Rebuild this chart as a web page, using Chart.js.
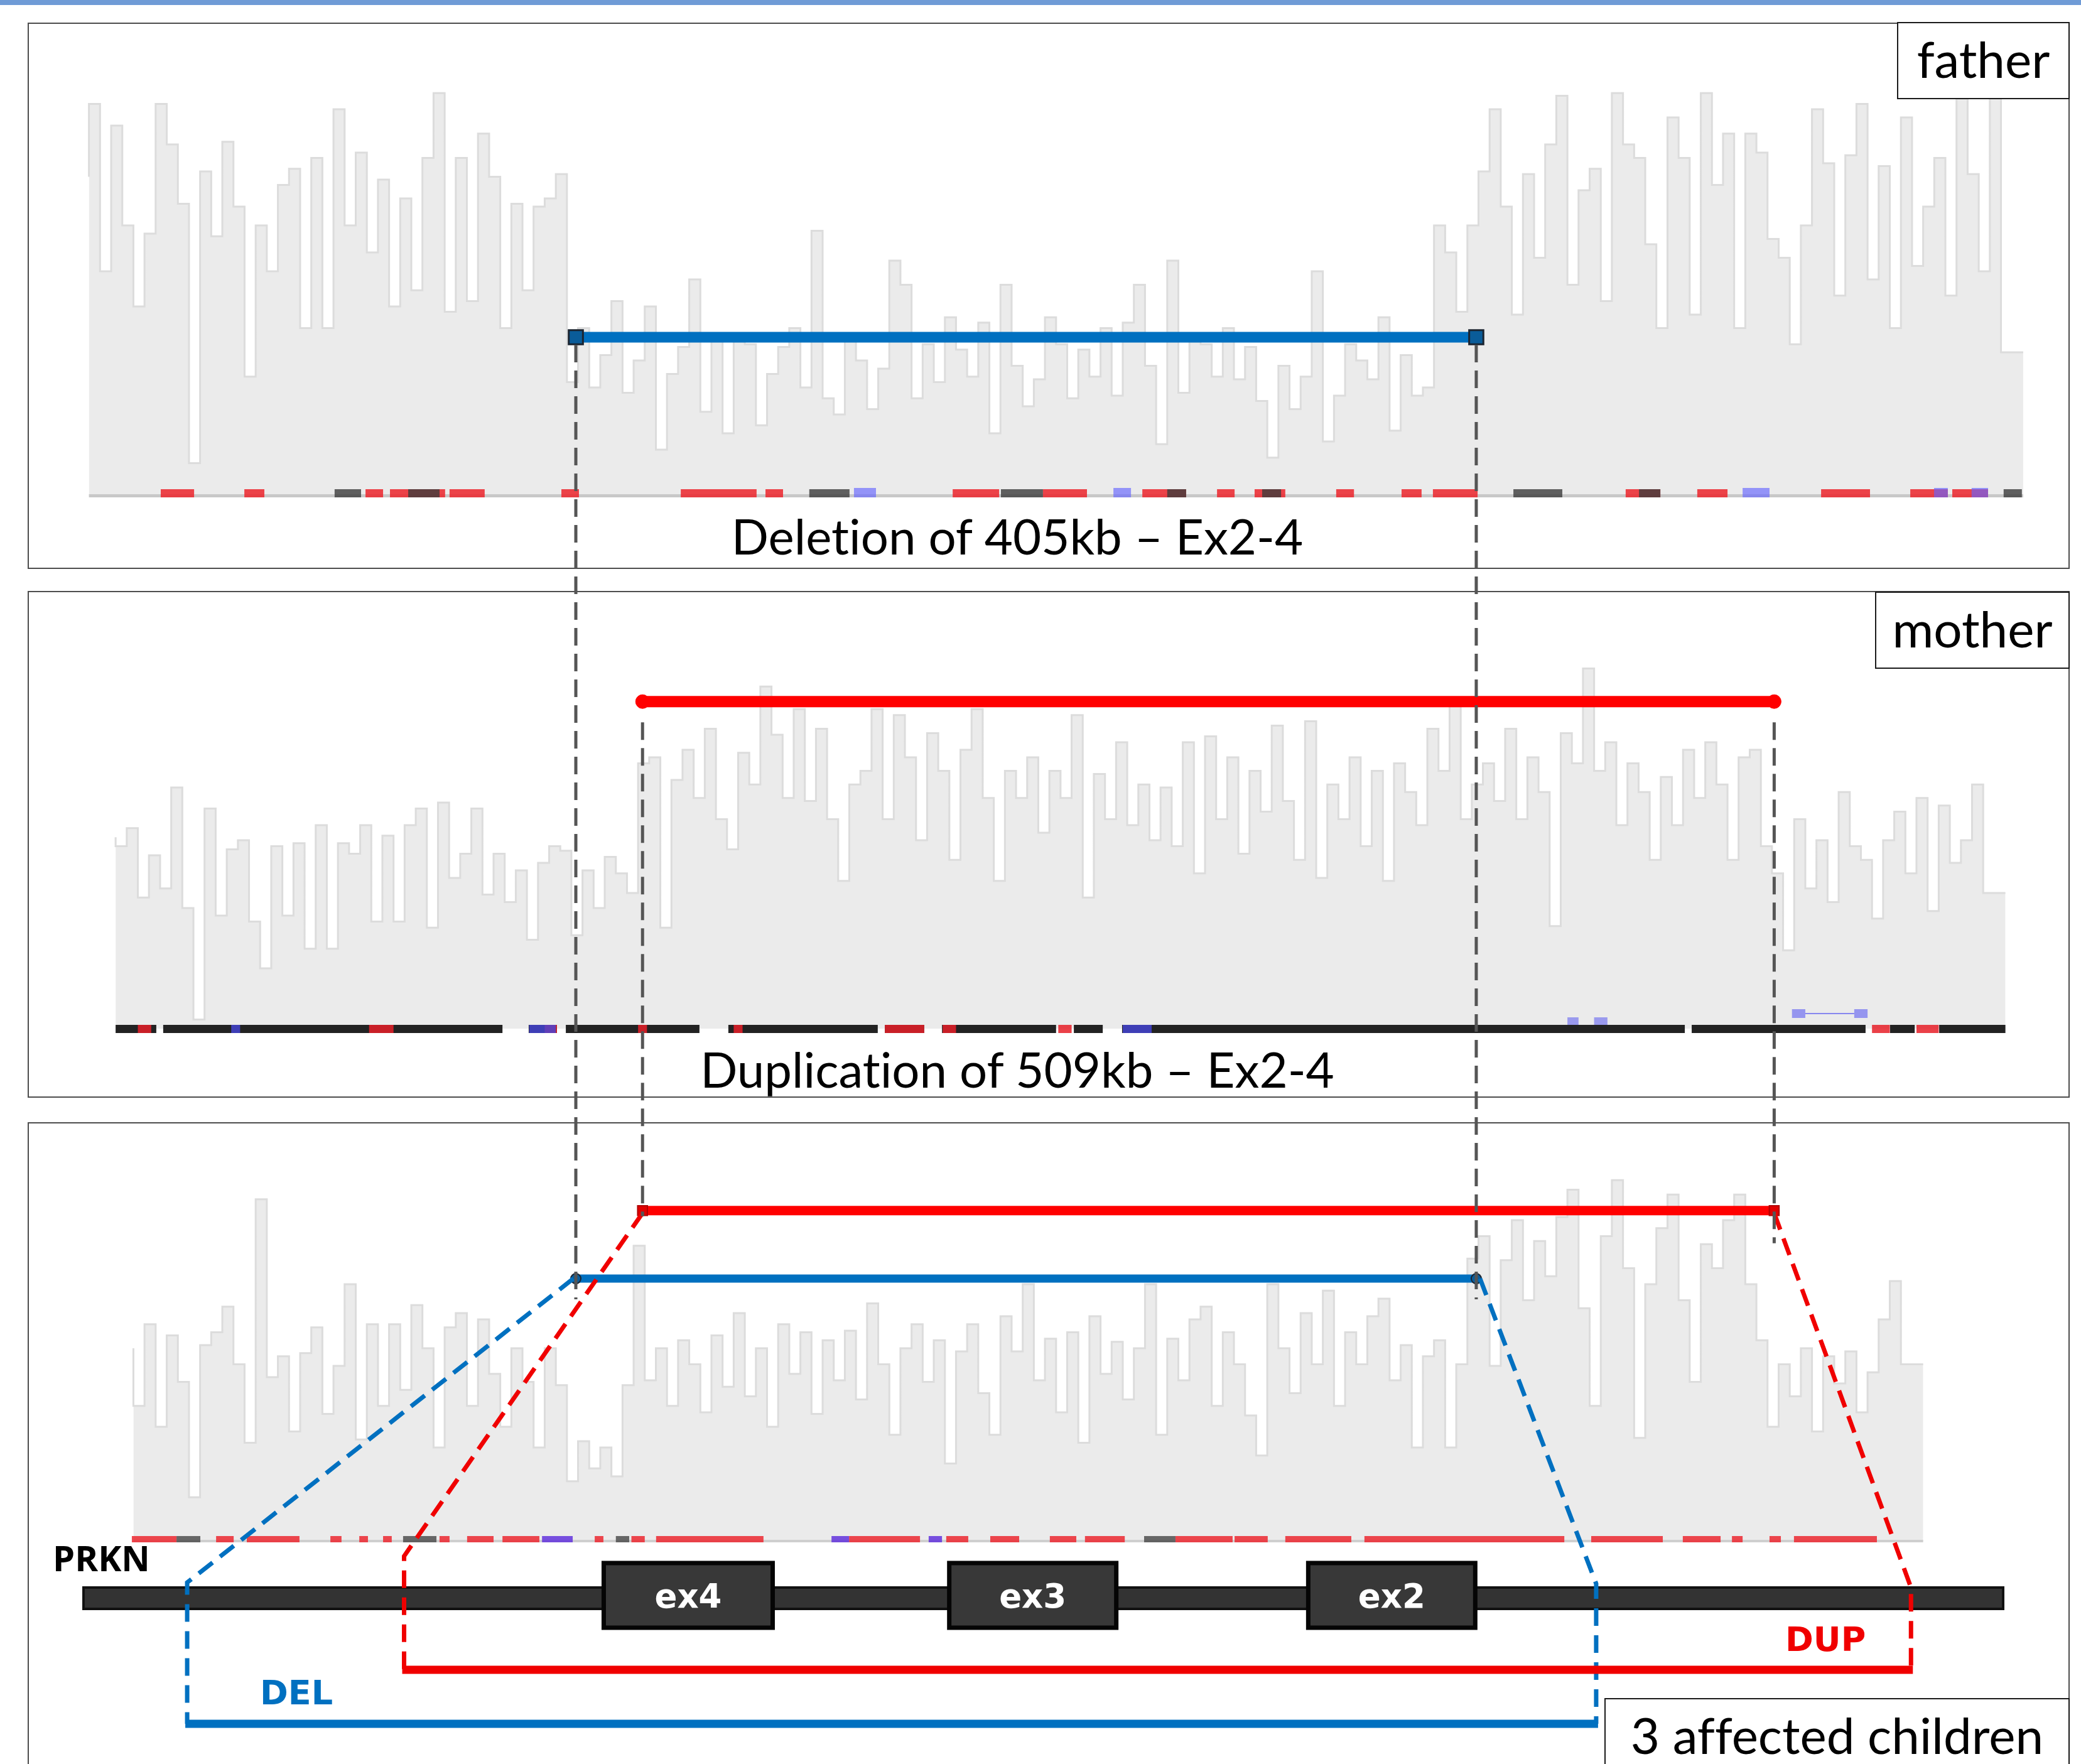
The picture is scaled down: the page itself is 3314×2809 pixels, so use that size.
<!DOCTYPE html>
<html>
<head>
<meta charset="utf-8">
<title>PRKN Ex2-4 deletion / duplication</title>
<script src="https://cdn.jsdelivr.net/npm/chart.js@4.4.1/dist/chart.umd.min.js"></script>
<style>
  html, body { margin: 0; padding: 0; background: #fff; }
  #wrap { position: relative; width: 3314px; height: 2809px; overflow: hidden; background: #fff; }
  #topbar { position: absolute; left: 0; top: 0; width: 100%; height: 8px; background: #6f9bd6; }
  .panel { position: absolute; left: 44px; width: 3252px; border: 2px solid #4d4d4d; box-sizing: border-box; }
  #chart { position: absolute; left: 0; top: 0; }
  .tag { position: absolute; background: #fff; border: 2px solid #1a1a1a; box-sizing: border-box;
         padding-top: 16px; text-align: center; font: 80px/80px Lato, sans-serif; color: #000; white-space: nowrap;
         font-variant-ligatures: none; }
  .caption { position: absolute; left: 0; width: 3240px; text-align: center; font: 78px/78px Lato, sans-serif; color: #000;
             font-variant-ligatures: none; }
  .lbl { position: absolute; font-family: "DejaVu Sans", sans-serif; font-weight: bold; line-height: 1; white-space: nowrap; }
</style>
</head>
<body>
<div id="wrap">
  <div id="topbar"></div>
  <div class="panel" style="top:36px;height:870px"></div>
  <div class="panel" style="top:941px;height:807px"></div>
  <div class="panel" style="top:1787px;height:1100px"></div>
  <canvas id="chart" width="3314" height="2809"></canvas>
  <div class="tag" style="left:3021px;top:35px;width:275px;height:123px">father</div>
  <div class="tag" style="left:2986px;top:942px;width:310px;height:123px">mother</div>
  <div class="tag" style="left:2555px;top:2704px;width:741px;height:200px">3 affected children</div>
  <div class="caption" style="top:814px">Deletion of 405kb – Ex2-4</div>
  <div class="caption" style="top:1663px">Duplication of 509kb – Ex2-4</div>
  <div class="lbl" style="left:84px;top:2452px;font-family:'Open Sans',sans-serif;font-size:56px;color:#000">PRKN</div>
  <div class="lbl" style="left:414px;top:2669px;font-size:54px;color:#0070c0">DEL</div>
  <div class="lbl" style="left:2843px;top:2584px;font-size:54px;color:#f00000">DUP</div>
</div>
<script>
// read depth in 5 kb bins, x in kb along the shown region (about 100 = two copies)
var BIN_KB = 5;

var fatherStartKb = 40;
var fatherDepth = [
  118,145,83,137,100,70,97,145,130,108,12,120,96,131,107,44,100,83,115,121,62,125,62,143,100,127,90,117,70,110,76,125,149,68,125,72,134,118,62,108,76,107,110,119,
  42,62,40,52,72,38,50,70,17,45,55,80,31,58,23,60,56,26,45,55,62,40,98,36,30,60,50,32,47,87,
  78,36,56,42,66,54,44,64,23,78,48,33,43,66,56,36,54,44,62,37,64,78,48,19,87,38,58,56,44,62,
  43,55,35,14,48,32,44,83,20,37,56,50,43,66,24,52,37,40,100,90,68,
  100,120,143,107,67,119,88,130,148,78,113,121,72,149,130,125,93,62,140,125,67,149,115,134,62,
  134,127,95,88,56,100,143,123,74,126,145,80,122,62,140,85,107,125,74,147,119,83,147,53
];

var motherStartKb = 52;
var motherDepth = [
  127,121,133,87,115,93,160,80,6,146,75,119,125,71,40,121,75,123,53,135,53,123,116,135,71,128,71,135,146,67,150,100,116,146,89,116,84,105,59,110,121,118,62,105,80,114,103,90,
  176,180,67,165,185,153,199,139,119,183,162,227,195,153,212,151,199,139,98,162,171,212,139,208,180,125,196,171,112,185,
  212,153,98,171,153,180,130,171,153,208,87,169,139,190,135,162,125,160,121,190,103,194,139,180,116,171,144,201,151,112,
  204,100,162,139,180,121,171,98,176,157,135,199,171,215,139,162,176,151,199,139,180,157,68,196,176,239,171,190,135,176,
  157,112,167,135,185,153,190,162,112,180,185,121,
  103,52,139,93,125,84,157,121,112,73,125,144,103,153,78,148,110,125,162,90
];

var childStartKb = 60;
var childDepth = [
  120,84,135,71,128,99,27,122,130,146,110,61,213,102,115,68,117,133,79,109,160,63,135,84,135,94,147,120,58,133,142,84,138,104,71,120,99,58,120,97,
  37,62,45,58,40,97,
  184,100,120,84,125,110,80,128,96,142,90,120,71,135,104,130,79,125,100,131,88,148,110,66,120,135,99,125,48,118,
  135,92,66,140,118,160,100,126,80,130,61,140,104,124,88,120,160,66,126,100,138,146,84,130,110,78,53,160,120,92,
  142,110,156,84,130,110,140,151,100,122,58,115,125,58,110,
  176,190,109,175,200,150,187,165,202,219,145,84,190,225,170,64,160,195,216,150,99,185,170,200,216,160,
  125,71,110,90,120,68,115,98,118,80,105,138,162,110
];

// CNV calls, kb
var delStartKb = 259, delSizeKb = 405;
var dupStartKb = 289, dupSizeKb = 509;
// depth level where each call bar sits in its panel
var fatherDelLevel = 58.6;
var motherDupLevel = 217;
var childDupLevel = 206;
var childDelLevel = 163.5;

// PRKN schematic, position in % of the drawn gene
var geneSpan = [0, 100];
var exonNames = ['ex4', 'ex3', 'ex2'];
var exonFrom = [27.1, 45.1, 63.8];
var exonTo = [35.9, 53.8, 72.5];
var schemDel = [5.4, 78.8];
var schemDup = [16.7, 95.2];

// annotation marks under each track, kb
var fatherRed = [[72.3,87.3],[109.9,118.9],[164.4,172.3],[175.4,200.2],[202.2,218],[252.5,260.4],[306.2,340.3],[344.3,352.2],[428.5,449.4],[469.1,488.9],[513.8,533.5],[547.4,555.3],[564.3,578.1],[601,609],[630.4,639.4],[644.5,664.6],[731.2,746.8],[763.4,777],[819.1,841.1],[859.2,876.1],[878.1,894.2]];
var fatherDark = [[150.5,162.4],[183.6,197.7],[364,382.1],[450.2,469.1],[525,533.5],[567.7,576.2],[680.7,702.7],[737.2,746.8],[901.2,909.4]];
var fatherBlue = [[384.1,394],[500.8,508.7],[783.8,795.9],[869.9,876.1],[886.8,894.2]];
var motherBand = [[52,70.3],[73.4,226],[237.8,250.5],[254.5,314.6],[327.6,394.8],[398,415.7],[423.7,475],[483,496],[504.7,757.8],[760.9,839.1],[850.1,861.2],[872.2,902]];
var motherRed = [[62,68],[166,177],[245,250.5],[287,291],[330,334],[398,415.7],[424,430],[476,482],[842,850],[862,872]];
var motherBlue = [[104,108],[238,250],[505,518]];
var motherBoxes = [[705,710],[717,723]];
var motherGene = [[806,812],[834,840]];
var childRed = [[59.3,79.4],[97.2,105.1],[111,134.7],[148.6,153.6],[161.6,165.5],[172.3,176.2],[197.7,202.2],[210.1,222],[226,242.6],[267.5,271.4],[284,290],[295.1,343.4],[381.9,413.8],[425.6,435.5],[445.4,458.4],[472.2,484.1],[488,505.9],[528.7,554.4],[555.3,570.2],[578.1,607.8],[613.7,703.6],[715.7,747.9],[756.9,773.9],[779,783.8],[795.9,801],[806.9,844.2]];
var childDark = [[79.4,90.1],[181.3,196.3],[277,283],[514.6,528.7]];
var childBlue = [[243.8,257.6],[374,381.9],[417.7,423.7]];

// ---- layout ----
var W = 3314, H = 2809;
var PX_PER_KB = 3.5406;
var GENE_L = 133, GENE_R = 3190;
var GENE_PPU = (GENE_R - GENE_L) / 100;
var panelY = { yF: { base: 789, ppu: 4.3 }, yM: { base: 1638, ppu: 2.4 }, yC: { base: 2453, ppu: 2.55 } };
var GENE_Y = 2545, GENE_H = 34, EXON_TOP = 2489, EXON_H = 103;
var DUP_Y = 2659, DEL_Y = 2745;

function yAxis(p) {
  return { type: 'linear', display: false, min: -(H - p.base) / p.ppu, max: p.base / p.ppu };
}

function stepData(start, vals) {
  var pts = vals.map(function (v, i) { return { x: start + i * BIN_KB, y: v }; });
  pts.push({ x: start + vals.length * BIN_KB, y: vals[vals.length - 1] });
  return pts;
}

function cover(start, vals, axis) {
  return {
    data: stepData(start, vals), yAxisID: axis, xAxisID: 'x',
    stepped: 'after', fill: 'origin', backgroundColor: '#ebebeb',
    borderColor: '#dcdcdc', borderWidth: 3, pointRadius: 0, order: 2
  };
}

function call(from, len, level, axis, color, width, cap) {
  return {
    data: [{ x: from, y: level }, { x: from + len, y: level }], yAxisID: axis, xAxisID: 'x',
    borderColor: color, borderWidth: width, fill: false,
    pointRadius: cap.r, pointStyle: cap.style, pointBackgroundColor: cap.fill,
    pointBorderColor: cap.edge, pointBorderWidth: cap.w, order: 1
  };
}

function dashed(ctx, pts, color, width, dash) {
  ctx.save();
  ctx.strokeStyle = color;
  ctx.lineWidth = width;
  ctx.setLineDash(dash);
  ctx.beginPath();
  ctx.moveTo(pts[0][0], pts[0][1]);
  for (var i = 1; i < pts.length; i++) ctx.lineTo(pts[i][0], pts[i][1]);
  ctx.stroke();
  ctx.restore();
}

function marks(ctx, kx, list, y, h, color) {
  ctx.fillStyle = color;
  list.forEach(function (r) { ctx.fillRect(kx(r[0]), y, kx(r[1]) - kx(r[0]), h); });
}

var overlay = {
  id: 'overlay',
  afterDatasetsDraw: function (chart) {
    var ctx = chart.ctx, s = chart.scales;
    var kx = function (v) { return s.x.getPixelForValue(v); };
    var gx = function (v) { return s.xg.getPixelForValue(v); };
    var fy = s.yF.getPixelForValue(0), my = s.yM.getPixelForValue(0), cy = s.yC.getPixelForValue(0);
    var delEnd = delStartKb + delSizeKb, dupEnd = dupStartKb + dupSizeKb;
    ctx.save();

    // father annotation track
    ctx.fillStyle = '#c8c8c8';
    ctx.fillRect(kx(fatherStartKb), fy - 2, kx(fatherStartKb + fatherDepth.length * BIN_KB) - kx(fatherStartKb), 5);
    marks(ctx, kx, fatherRed, fy - 10, 13, 'rgba(236,36,44,0.85)');
    marks(ctx, kx, fatherDark, fy - 10, 13, 'rgba(60,60,60,0.8)');
    marks(ctx, kx, fatherBlue, fy - 12, 15, 'rgba(100,100,255,0.65)');

    // mother annotation track
    marks(ctx, kx, motherBand, my - 6, 13, '#222');
    marks(ctx, kx, motherRed, my - 6, 13, 'rgba(230,30,40,0.85)');
    marks(ctx, kx, motherBlue, my - 6, 13, 'rgba(70,70,220,0.8)');
    marks(ctx, kx, motherBoxes, my - 18, 12, 'rgba(120,120,240,0.7)');
    ctx.strokeStyle = 'rgba(110,110,240,0.8)';
    ctx.lineWidth = 2;
    ctx.beginPath();
    ctx.moveTo(kx(motherGene[0][1]), my - 24);
    ctx.lineTo(kx(motherGene[1][0]), my - 24);
    ctx.stroke();
    marks(ctx, kx, motherGene, my - 31, 14, 'rgba(120,120,240,0.75)');

    // children annotation track
    ctx.fillStyle = '#cfcfcf';
    ctx.fillRect(kx(childStartKb), cy - 1, kx(childStartKb + childDepth.length * BIN_KB) - kx(childStartKb), 4);
    marks(ctx, kx, childRed, cy - 7, 10, 'rgba(236,40,48,0.85)');
    marks(ctx, kx, childDark, cy - 7, 10, 'rgba(70,70,70,0.8)');
    marks(ctx, kx, childBlue, cy - 7, 10, 'rgba(90,40,220,0.8)');

    // PRKN gene model
    ctx.fillStyle = '#333';
    ctx.strokeStyle = '#111';
    ctx.lineWidth = 4;
    ctx.fillRect(gx(geneSpan[0]), GENE_Y - GENE_H / 2, gx(geneSpan[1]) - gx(geneSpan[0]), GENE_H);
    ctx.strokeRect(gx(geneSpan[0]), GENE_Y - GENE_H / 2, gx(geneSpan[1]) - gx(geneSpan[0]), GENE_H);
    ctx.lineWidth = 7;
    ctx.strokeStyle = '#050505';
    ctx.fillStyle = '#383838';
    for (var i = 0; i < exonNames.length; i++) {
      ctx.fillRect(gx(exonFrom[i]), EXON_TOP, gx(exonTo[i]) - gx(exonFrom[i]), EXON_H);
      ctx.strokeRect(gx(exonFrom[i]), EXON_TOP, gx(exonTo[i]) - gx(exonFrom[i]), EXON_H);
    }

    // children calls projected onto the gene model
    var cDel = s.yC.getPixelForValue(childDelLevel), cDup = s.yC.getPixelForValue(childDupLevel);
    dashed(ctx, [[kx(delStartKb) - 4, cDel], [gx(schemDel[0]), 2520], [gx(schemDel[0]), DEL_Y]], '#0070c0', 7, [28, 15]);
    dashed(ctx, [[kx(delEnd) + 6, cDel], [gx(schemDel[1]), 2522], [gx(schemDel[1]), DEL_Y]], '#0070c0', 7, [28, 15]);
    dashed(ctx, [[kx(dupStartKb), cDup + 4], [gx(schemDup[0]), 2478], [gx(schemDup[0]), DUP_Y]], '#f00000', 7, [28, 15]);
    dashed(ctx, [[kx(dupEnd), cDup + 4], [gx(schemDup[1]), 2528], [gx(schemDup[1]), DUP_Y]], '#f00000', 7, [28, 15]);
    ctx.lineWidth = 13;
    ctx.strokeStyle = '#f00000';
    ctx.beginPath(); ctx.moveTo(gx(schemDup[0]) - 3, DUP_Y); ctx.lineTo(gx(schemDup[1]) + 3, DUP_Y); ctx.stroke();
    ctx.strokeStyle = '#0070c0';
    ctx.beginPath(); ctx.moveTo(gx(schemDel[0]) - 3, DEL_Y); ctx.lineTo(gx(schemDel[1]) + 3, DEL_Y); ctx.stroke();

    // breakpoints carried down through the panels
    var fDel = s.yF.getPixelForValue(fatherDelLevel), mDup = s.yM.getPixelForValue(motherDupLevel);
    dashed(ctx, [[kx(delStartKb), fDel + 12], [kx(delStartKb), cDel + 33]], '#555', 5, [28, 13]);
    dashed(ctx, [[kx(delEnd), fDel + 12], [kx(delEnd), cDel + 33]], '#555', 5, [28, 13]);
    dashed(ctx, [[kx(dupStartKb), mDup + 33], [kx(dupStartKb), cDup + 9]], '#555', 5, [28, 13]);
    dashed(ctx, [[kx(dupEnd), mDup + 33], [kx(dupEnd), cDup + 52]], '#555', 5, [28, 13]);

    ctx.restore();
  }
};

var chart = new Chart(document.getElementById('chart'), {
  type: 'line',
  data: {
    datasets: [
      call(delStartKb, delSizeKb, fatherDelLevel, 'yF', '#0070c0', 17,
        { r: 16, style: 'rect', fill: '#0a5c99', edge: '#1b2430', w: 3 }),
      call(dupStartKb, dupSizeKb, motherDupLevel, 'yM', '#ff0000', 18,
        { r: 11, style: 'circle', fill: '#ff0000', edge: '#ff0000', w: 1 }),
      call(dupStartKb, dupSizeKb, childDupLevel, 'yC', '#ff0000', 15,
        { r: 11, style: 'rect', fill: '#e00000', edge: '#b00000', w: 2 }),
      call(delStartKb, delSizeKb, childDelLevel, 'yC', '#0070c0', 13,
        { r: 8, style: 'circle', fill: '#0a5c99', edge: '#1b2430', w: 2 }),
      cover(fatherStartKb, fatherDepth, 'yF'),
      cover(motherStartKb, motherDepth, 'yM'),
      cover(childStartKb, childDepth, 'yC')
    ]
  },
  options: {
    responsive: false,
    animation: false,
    devicePixelRatio: 1,
    layout: { padding: 0, autoPadding: false },
    plugins: { legend: { display: false }, tooltip: { enabled: false } },
    elements: { line: { tension: 0 } },
    scales: {
      x: { type: 'linear', display: false, min: 0, max: W / PX_PER_KB },
      xg: { type: 'linear', display: false, position: 'bottom', min: -GENE_L / GENE_PPU, max: (W - GENE_L) / GENE_PPU },
      yF: yAxis(panelY.yF),
      yM: yAxis(panelY.yM),
      yC: yAxis(panelY.yC)
    }
  },
  plugins: [overlay]
});

// exon names sit on the drawn boxes
var wrap = document.getElementById('wrap');
exonNames.forEach(function (n, i) {
  var cx = (chart.scales.xg.getPixelForValue(exonFrom[i]) + chart.scales.xg.getPixelForValue(exonTo[i])) / 2;
  var d = document.createElement('div');
  d.className = 'lbl';
  d.textContent = n;
  d.style.color = '#fff';
  d.style.fontSize = '53px';
  d.style.top = '2515px';
  d.style.left = cx + 'px';
  d.style.transform = 'translateX(-50%)';
  wrap.appendChild(d);
});
</script>
</body>
</html>
